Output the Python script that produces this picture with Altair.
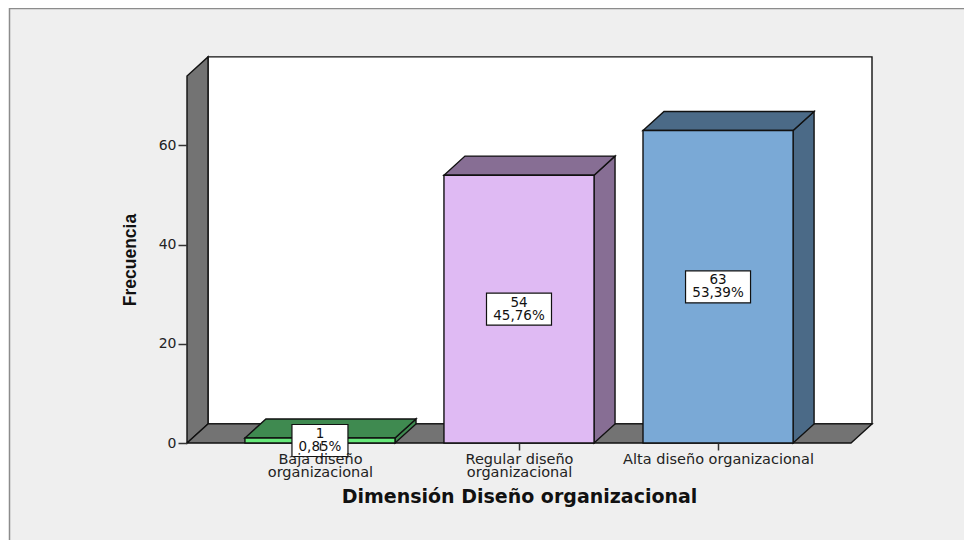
import json
import altair as alt
import pandas as pd

categories = [["Baja diseño", "organizacional"], ["Regular diseño", "organizacional"], ["Alta diseño organizacional"]]
values = [1, 54, 63]
percents = ["0,85%", "45,76%", "53,39%"]
front_colors = ["#66E87A", "#DFBAF3", "#7AA9D6"]
side_colors = ["#3F8A50", "#876E94", "#4B6A87"]
box_widths = [56, 65, 65]
y_ticks = [0, 20, 40, 60]

WALL = "#737373"
BG = "#EFEFEF"
INK = "#111111"
XMIN, XMAX = 0.332, 3.668
YMAX = 74
DX, DY = 0.1055, 3.85   # depth of the 3D projection, in axis units
HALF = 0.377            # half of a bar's width, in axis units

label_expr = "[" + ",".join(json.dumps(c, ensure_ascii=False) for c in categories) + "][datum.value-1]"
sx = alt.Scale(domain=[XMIN, XMAX], nice=False, zero=False)
sy = alt.Scale(domain=[0, YMAX], nice=False, zero=False)
FONT = "DejaVu Sans"
ax_x = alt.Axis(values=[1, 2, 3], labelExpr=label_expr, title="Dimensión Diseño organizacional", grid=False,
                domain=False, tickSize=7, tickWidth=1.5, tickColor="#333333", labelFont=FONT, labelFontSize=14.5,
                labelColor="#222222", labelPadding=2, labelLineHeight=13, labelBaseline="top", labelOverlap=False,
                labelLimit=400, titleFont=FONT, titleFontSize=19, titleFontWeight="bold", titleColor="#111111",
                titlePadding=9, zindex=1)
ax_y = alt.Axis(values=y_ticks, title="Frecuencia", grid=False, domain=False, tickSize=9, tickWidth=1.5,
                tickColor="#333333", labelFont=FONT, labelFontSize=14, labelColor="#222222", labelPadding=2,
                titleFont="Liberation Sans", titleFontSize=17.5, titleFontWeight="bold", titleColor="#111111",
                titlePadding=19, zindex=1)
X = alt.X("x:Q", scale=sx, axis=ax_x)
Y = alt.Y("y:Q", scale=sy, axis=ax_y)


def face(rows, key, color):
    return [dict(x=a, y=b, y2=c, shape=key, color=color) for a, b, c in rows]


room = []
room += face([(XMIN + DX, DY, YMAX + DY), (XMAX + DX, DY, YMAX + DY)], "back", "#FFFFFF")
room += face([(XMIN, 0, YMAX), (XMIN + DX, DY, YMAX + DY)], "left", WALL)
room += face([(XMIN, 0, 0), (XMIN + DX, 0, DY), (XMAX, 0, DY), (XMAX + DX, DY, DY)], "floor", WALL)

sides, fronts, boxes = [], [], []
for i, v in enumerate(values):
    c = i + 1
    l, r = c - HALF, c + HALF
    sides += face([(r, 0, v), (r + DX, DY, v + DY)], f"side{i}", side_colors[i])
    sides += face([(l, v, v), (l + DX, v, v + DY), (r, v, v + DY), (r + DX, v + DY, v + DY)], f"top{i}", side_colors[i])
    fronts.append(dict(x=l, x2=r, y=0, y2=v, color=front_colors[i]))
    boxes.append(dict(x=c, y=v / 2, label=f"{v}\n{percents[i]}", w=box_widths[i]))


def areas(rows):
    return alt.Chart(pd.DataFrame(rows)).mark_area(orient="vertical", stroke=INK, strokeWidth=1.4, clip=False).encode(
        x=X, y=Y, y2=alt.Y2("y2:Q"), fill=alt.Fill("color:N", scale=None), detail="shape:N")


front = alt.Chart(pd.DataFrame(fronts)).mark_rect(stroke=INK, strokeWidth=1.4).encode(
    x=X, x2=alt.X2("x2:Q"), y=Y, y2=alt.Y2("y2:Q"), fill=alt.Fill("color:N", scale=None))

box_layers = []
for b in boxes:
    box_layers.append(alt.Chart(pd.DataFrame([b])).mark_rect(width=b["w"], height=32, fill="#FFFFFF", stroke=INK, strokeWidth=1.2)
                      .encode(x=X, y=Y))
texts = alt.Chart(pd.DataFrame(boxes)).mark_text(font=FONT, fontSize=13.5, lineBreak="\n", lineHeight=13, dy=-6.5,
                                                 baseline="middle", color="#111111").encode(x=X, y=Y, text="label:N")

frame_h = alt.Chart(pd.DataFrame({"a": [0]})).mark_rule(color="#8C8C8C", strokeWidth=1.5).encode(
    x=alt.value(-178), x2=alt.value(785), y=alt.value(-67.5))
frame_v = alt.Chart(pd.DataFrame({"a": [0]})).mark_rule(color="#8C8C8C", strokeWidth=1.5).encode(
    x=alt.value(-177.5), y=alt.value(-68), y2=alt.value(464))
strip = alt.Chart(pd.DataFrame({"a": [0]})).mark_rule(color="#FFFFFF", strokeWidth=1.5).encode(
    x=alt.value(-178.6), y=alt.value(-68), y2=alt.value(464))

chart = alt.layer(areas(room), areas(sides), front, *box_layers, texts, strip, frame_h, frame_v).properties(
    width=664, height=367, padding={"left": 179, "top": 68, "right": 113, "bottom": 97},
    autosize=alt.AutoSizeParams(type="none"), background=BG,
).configure_view(stroke=None)

chart.save("out.html", embed_options={"renderer": "svg", "actions": False})
